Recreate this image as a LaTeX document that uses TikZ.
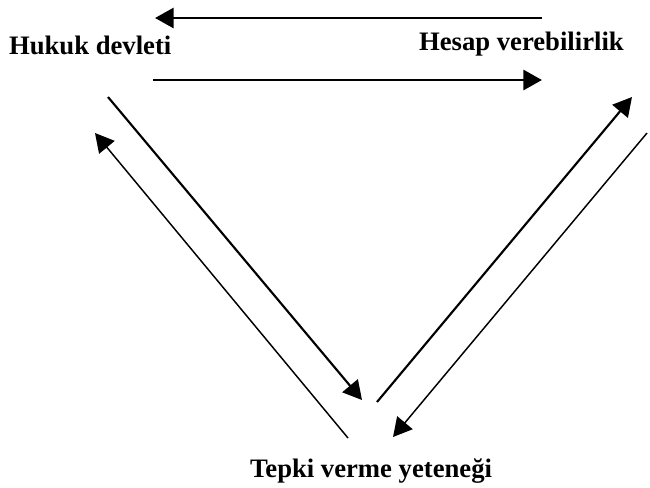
\documentclass[tikz,border=0pt]{standalone}
\usepackage{fontspec}
\setmainfont{Liberation Serif}
\usetikzlibrary{arrows.meta}

\begin{document}
\begin{tikzpicture}[x=0.75pt, y=-0.75pt, ->, >={Triangle[length=14pt, width=15pt]}, line width=1.6pt,
        main node/.style={inner sep=0pt, font=\fontsize{20}{24}\selectfont\bfseries},
        thin arrow/.style={line width=1.1pt}]
    \useasboundingbox (0,0) rectangle (650,487);

    % Pojecia
    \node[main node, anchor=base west] (hukuk) at (8,54) {Hukuk devleti};
    \node[main node, anchor=base west] (hesap) at (418,50) {Hesap verebilirlik};
    \node[main node, anchor=base west] (tepki) at (249,477) {Tepki verme yeteneği};

    % Konce strzalek
    \coordinate (g1) at (542,18);  \coordinate (g2) at (155,18);
    \coordinate (d1) at (153,80);  \coordinate (d2) at (542,80);
    \coordinate (l1) at (108,97);  \coordinate (l2) at (362,400);
    \coordinate (l3) at (348,438); \coordinate (l4) at (95,133);
    \coordinate (r1) at (377,402); \coordinate (r2) at (632,97);
    \coordinate (r3) at (647,133); \coordinate (r4) at (393,437);

    % Strzalki
    \path (g1) edge[line width=2.2pt] (g2);
    \path (d1) edge[line width=2.2pt] (d2);
    \path (l1) edge[] (l2);
    \path (l3) edge[thin arrow] (l4);
    \path (r1) edge[] (r2);
    \path (r3) edge[thin arrow] (r4);
\end{tikzpicture}
\end{document}
